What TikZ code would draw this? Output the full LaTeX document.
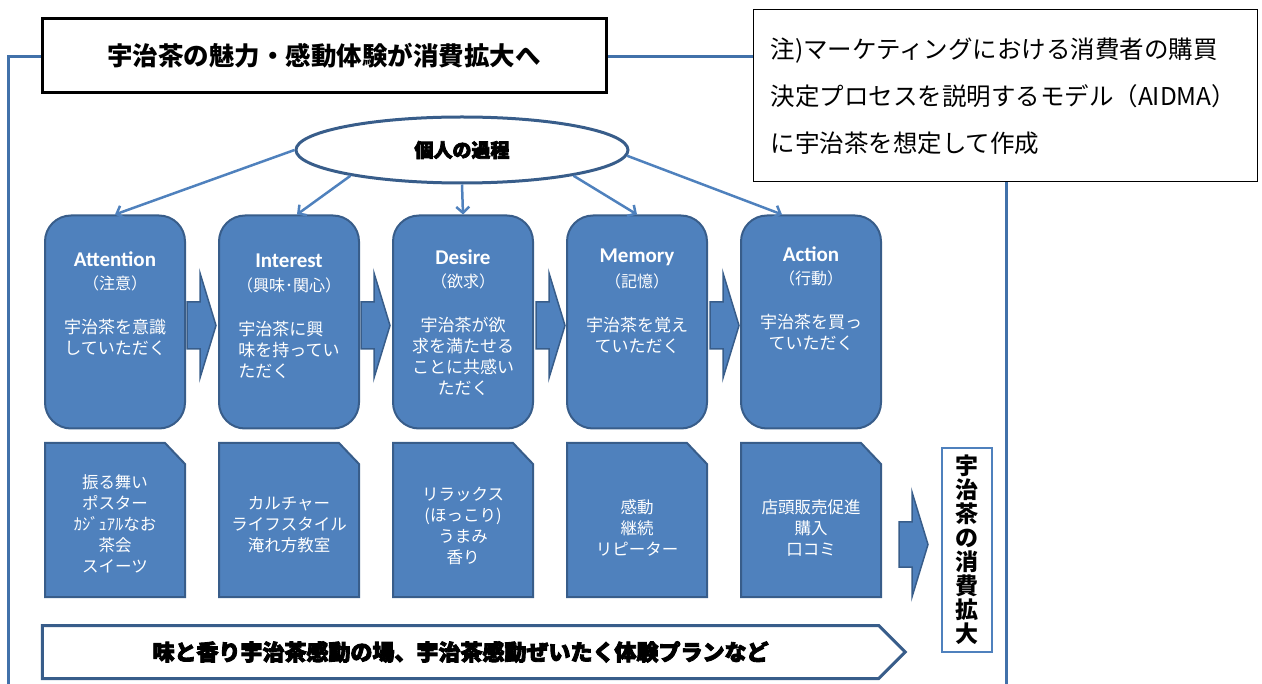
\documentclass[tikz,border=0pt]{standalone}
\usepackage{fontspec}
\setmainfont{Noto Sans CJK JP}
\newfontfamily\latinfont{Carlito}
\newfontfamily\heavyfont{Noto Sans CJK JP}[BoldFeatures={FakeBold=4}]
\usetikzlibrary{arrows.meta,shapes.geometric,shapes.symbols}
\definecolor{stagefill}{HTML}{4F81BD}
\definecolor{stageline}{HTML}{385D8A}
\definecolor{framecol}{HTML}{4171AA}
\tikzset{
  frame/.style = {draw=framecol, line width=3pt},
  titlebox/.style = {draw=black, line width=3pt, fill=white, minimum width=564pt, minimum height=74pt,
                     font=\bfseries\fontsize{25.5}{30}\selectfont},
  notebox/.style = {draw=black, line width=1pt, fill=white, text width=470pt, inner xsep=17pt,
                    minimum height=172pt, align=left, font=\fontsize{24.5}{47}\selectfont},
  process/.style = {ellipse, draw=stageline, line width=3pt, fill=white, minimum width=332pt,
                    minimum height=66pt, font=\heavyfont\bfseries\fontsize{19}{20}\selectfont},
  stage/.style = {draw=stageline, fill=stagefill, line width=2pt, rounded corners=26pt,
                  minimum width=140pt, minimum height=213pt},
  stagetitle/.style = {text=white, inner sep=0pt, font=\latinfont\bfseries\fontsize{21}{24}\selectfont},
  stagesub/.style = {text=white, inner sep=0pt, font=\fontsize{16}{20}\selectfont},
  stagebody/.style = {text=white, inner sep=0pt, anchor=north, font=\fontsize{17}{21}\selectfont},
  cardspot/.style = {inner sep=0pt, outer sep=0pt, minimum width=140pt, minimum height=154pt},
  cardshape/.style = {draw=stageline, fill=stagefill, line width=2pt},
  cardtext/.style = {text=white, inner sep=0pt, align=center, font=\fontsize{16.5}{21}\selectfont},
  link/.style = {draw=stagefill, line width=2.5pt, -{Straight Barb[length=6pt,width=13pt]}},
  flow/.style = {draw=stageline, fill=stagefill, line width=1.5pt},
  goalbox/.style = {draw=stagefill, line width=2.5pt, fill=white, minimum width=50pt, minimum height=204pt,
                    inner sep=0pt, align=center, font=\bfseries\fontsize{23}{24}\selectfont},
  planbar/.style = {signal, signal to=east, signal pointer angle=90, draw=stageline, line width=3pt,
                    fill=white, minimum width=863pt, minimum height=53pt,
                    font=\heavyfont\bfseries\fontsize{22}{24}\selectfont}
}
\begin{document}
\begin{tikzpicture}[x=1pt, y=-1pt]
  \useasboundingbox (0,0) rectangle (1262,684);
  % frame behind everything
  \draw[frame] (8,684) -- (8,57) -- (1006,57) -- (1006,684);
  \node[titlebox] (title) at (324,56) {宇治茶の魅力・感動体験が消費拡大へ};
  \node[notebox] (note) at (1005.5,96) {注)マーケティングにおける消費者の購買\\決定プロセスを説明するモデル（AIDMA）\\に宇治茶を想定して作成};
  \node[process] (proc) at (462,150) {個人の過程};
  % AIDMA stages
  \foreach \n/\x/\ty/\ttl/\sub/\body/\al in {
      att/115/259/Attention/（注意）/{宇治茶を意識\\していただく}/center,
      int/289/261/Interest/（興味･関心）/{宇治茶に興\\味を持ってい\\ただく}/left,
      des/463/257/Desire/（欲求）/{宇治茶が欲\\求を満たせる\\ことに共感い\\ただく}/center,
      mem/637/257/Memory/（記憶）/{宇治茶を覚え\\ていただく}/center,
      act/811/254/Action/（行動）/{宇治茶を買っ\\ていただく}/center}{
    \node[stage] (\n) at (\x,322) {};
    \node[stagetitle] (\n-t) at (\x,\ty) {\ttl};
    \node[stagesub] (\n-s) at (\x,\ty+24) {\sub};
    \node[stagebody, align=\al] (\n-b) at (\x,\ty+60) {\body};
  }
  % examples under each stage
  \foreach \i/\x/\ty/\body in {
      1/115/524/{振る舞い\\ポスター\\ｶｼﾞｭｱﾙなお\\茶会\\スイーツ},
      2/289/525/{カルチャー\\ライフスタイル\\淹れ方教室},
      3/463/526/{リラックス\\(ほっこり)\\うまみ\\香り},
      4/637/528/{感動\\継続\\リピーター},
      5/811/528/{店頭販売促進\\購入\\口コミ}}{
    \node[cardspot] (card\i) at (\x,520) {};
    \draw[cardshape] (card\i.north west) -- ([xshift=-20pt]card\i.north east)
      -- ([yshift=-21pt]card\i.north east) -- (card\i.south east) -- (card\i.south west) -- cycle;
    \node[cardtext] (card\i-t) at (\x,\ty) {\body};
  }
  \draw[link] (proc.west) -- (att.north);
  \draw[link] (proc.193) -- ([xshift=8pt]int.north);
  \draw[link] (proc.south) -- (des.north);
  \draw[link] (proc.-13) -- (mem.north);
  \draw[link] (proc.-2) -- ([xshift=-29pt]act.north);
  % block arrows
  \foreach \x in {187,361,536,710}
    \draw[flow] (\x,302) -- (\x+13,302) -- (\x+13,273) -- (\x+29,325.5) -- (\x+13,378) -- (\x+13,349) -- (\x,349) -- cycle;
  \draw[flow] (899,522) -- (912,522) -- (912,492) -- (928,544.5) -- (912,597) -- (912,567) -- (899,567) -- cycle;
  \node[goalbox] (goal) at (967,550) {宇\\治\\茶\\の\\消\\費\\拡\\大};
  \node[planbar] (plan) at (460.5,652) {味と香り宇治茶感動の場、宇治茶感動ぜいたく体験プランなど};
\end{tikzpicture}
\end{document}
